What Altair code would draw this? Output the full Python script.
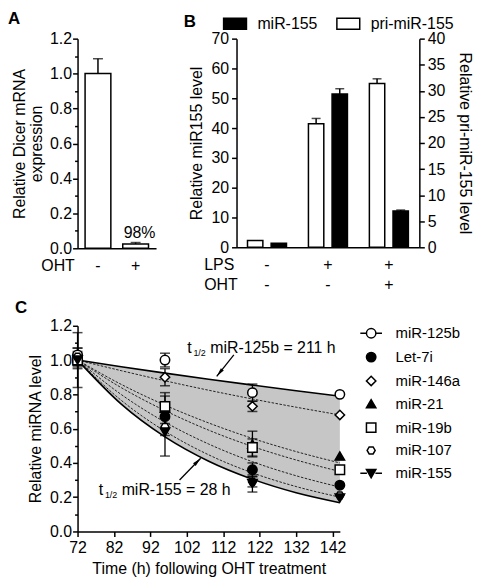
import altair as alt
import pandas as pd

FONT = "Liberation Sans"

# ---------------- Panel A data ----------------
a_oht = ["-", "+"]
a_value = [1.0, 0.025]
a_err = [0.085, 0.008]
a_note = ["", "98%"]
a_ticks = [0.0, 0.2, 0.4, 0.6, 0.8, 1.0, 1.2]
a_minor = [0.1, 0.3, 0.5, 0.7, 0.9, 1.1]

# ---------------- Panel B data ----------------
b_groups = ["-|-", "+|-", "+|+"]          # LPS | OHT
b_series = ["miR-155", "pri-miR-155"]
b_mir155 = [1.4, 51.4, 12.2]
b_mir155_err = [0.0, 1.8, 0.3]
b_pri = [1.3, 23.7, 31.4]
b_pri_err = [0.0, 1.0, 0.9]
b_left_ticks = [0, 10, 20, 30, 40, 50, 60, 70]
b_right_ticks = [0, 5, 10, 15, 20, 25, 30, 35, 40]

# ---------------- Panel C data ----------------
c_names = ["miR-125b", "Let-7i", "miR-146a", "miR-21", "miR-19b", "miR-107", "miR-155"]
c_hours = [72, 96, 120, 144]
c_125b = [1.03, 1.00, 0.81, 0.80]
c_let7i = [1.00, 0.67, 0.36, 0.27]
c_146a = [1.00, 0.90, 0.73, 0.68]
c_21 = [1.01, 0.72, 0.51, 0.44]
c_19b = [1.00, 0.73, 0.49, 0.36]
c_107 = [1.02, 0.61, 0.29, 0.21]
c_155 = [1.00, 0.58, 0.28, 0.195]
c_125b_err = [0.04, 0.04, 0.05, 0.0]
c_let7i_err = [0.03, 0.07, 0.04, 0.0]
c_146a_err = [0.03, 0.05, 0.03, 0.0]
c_21_err = [0.06, 0.09, 0.075, 0.0]
c_19b_err = [0.04, 0.06, 0.05, 0.0]
c_107_err = [0.03, 0.05, 0.03, 0.0]
c_155_err = [0.16, 0.14, 0.05, 0.0]

fit_hours = [72, 84, 96, 108, 120, 132, 144]
fit_125b = [1.0, 0.961, 0.924, 0.888, 0.854, 0.821, 0.789]
fit_146a = [1.0, 0.938, 0.879, 0.824, 0.773, 0.725, 0.680]
fit_21 = [1.0, 0.858, 0.737, 0.633, 0.543, 0.466, 0.400]
fit_19b = [1.0, 0.839, 0.705, 0.591, 0.496, 0.417, 0.350]
fit_let7i = [1.0, 0.799, 0.638, 0.510, 0.407, 0.325, 0.259]
fit_107 = [1.0, 0.765, 0.585, 0.447, 0.342, 0.262, 0.200]
fit_155 = [1.0, 0.743, 0.552, 0.410, 0.305, 0.226, 0.168]

c_xticks = [72, 82, 92, 102, 112, 122, 132, 142]
c_yticks = [0.0, 0.2, 0.4, 0.6, 0.8, 1.0, 1.2]
c_yminor = [0.1, 0.3, 0.5, 0.7, 0.9, 1.1]

ann_t_x = [102.1, 77.8]
ann_y = [1.072, 0.243]
ann_sub_x = [103.8, 79.5]
ann_main_x = [108.4, 84.1]
ann_main = ["miR-125b = 211 h", "miR-155 = 28 h"]
arr_tail_x = [114.9, 100.0]
arr_tail_y = [1.03, 0.30]
arr_tip_x = [110.2, 105.8]
arr_tip_y = [0.905, 0.427]
arr_angle = [219, 45]

HEX = "M-0.85,0L-0.42,-0.74L0.42,-0.74L0.85,0L0.42,0.74L-0.42,0.74Z"
c_shapes = ["circle", "circle", "diamond", "triangle-up", "square", HEX, "triangle-down"]
c_legend_shapes = [
    "M-2.3,0H-1M1,0H2.3M-1,0A1,1 0 1,1 1,0A1,1 0 1,1 -1,0Z",
    "circle", "diamond", "triangle-up", "square", HEX,
    "M-2.3,0H-0.9M0.9,0H2.3M-1,-0.8L1,-0.8L0,0.95Z",
]
c_fills = ["white", "black", "white", "black", "white", "white", "black"]

# =============== Panel A =================
dfA = pd.DataFrame({
    "oht": a_oht,
    "value": a_value,
    "top": [v + e for v, e in zip(a_value, a_err)],
    "note": a_note,
})
yscaleA = alt.Scale(domain=[0, 1.2], nice=False, zero=True)
xA = alt.X("oht:N", sort=a_oht,
           scale=alt.Scale(paddingInner=0.316, paddingOuter=0.2),
           axis=alt.Axis(title="OHT", titleX=-37, titleY=9, titleAlign="left",
                         titleBaseline="top", titleAngle=0, ticks=False,
                         labelAngle=0, labelPadding=9, labelBaseline="top"))
yaxA = alt.Axis(values=a_ticks, format=".1f", title=["Relative Dicer mRNA", "expression"],
                titlePadding=5, titleLineHeight=17, labelPadding=1)


def yA(field):
    return alt.Y(field, type="quantitative", scale=yscaleA, axis=yaxA)


baseA = alt.Chart(dfA)
barsA = baseA.mark_bar(fill="white", stroke="black", strokeWidth=1.5).encode(x=xA, y=yA("value"))
ruleA = baseA.mark_rule(strokeWidth=1.5, color="black").encode(x=xA, y=yA("value"), y2="top")
capA = baseA.mark_tick(size=10, thickness=1.5, color="black").encode(x=xA, y=yA("top"))
noteA = baseA.mark_text(baseline="bottom", dy=-2, dx=4, fontSize=16, font=FONT, color="black").encode(
    x=xA, y=yA("top"), text="note:N")
mainA = alt.layer(barsA, ruleA, capA, noteA)
minorA = alt.Chart(pd.DataFrame({"v": a_minor})).mark_point(opacity=0).encode(
    y=alt.Y("v:Q", scale=yscaleA,
            axis=alt.Axis(values=a_minor, labels=False, tickSize=3, domain=False,
                          title=None, orient="left")))
panelA = alt.layer(mainA, minorA).resolve_axis(y="independent").properties(
    width=79, height=211,
    title=alt.TitleParams("A", anchor="start", frame="group", dx=-70, fontSize=17,
                          fontWeight="bold", font=FONT, offset=3, color="black"))

# =============== Panel B =================
dfBk = pd.DataFrame({"group": b_groups, "series": "miR-155", "value": b_mir155,
                     "top": [v + e for v, e in zip(b_mir155, b_mir155_err)]})
dfBw = pd.DataFrame({"group": b_groups, "series": "pri-miR-155", "value": b_pri,
                     "top": [v + e for v, e in zip(b_pri, b_pri_err)]})
xB = alt.X("group:N", sort=b_groups,
           scale=alt.Scale(paddingInner=0.36, paddingOuter=0.18),
           axis=alt.Axis(title=["LPS", "OHT"], titleX=-33, titleY=9, titleAlign="left",
                         titleBaseline="top", titleAngle=0, titleLineHeight=20,
                         ticks=False, labelAngle=0, labelPadding=9, labelBaseline="top",
                         labelLineHeight=20, labelExpr="split(datum.label, '|')"))
xoB = alt.XOffset("series:N", scale=alt.Scale(domain=["pri-miR-155", "miR-155"], paddingInner=0.35))
legB = alt.Legend(title="B", titleOrient="left", titleFontSize=17, titleFontWeight="bold",
                  titleFont=FONT, titlePadding=26, orient="none", legendX=-53, legendY=-28,
                  direction="horizontal", symbolType="M-1,-0.48H1V0.48H-1Z", symbolSize=529,
                  symbolStrokeColor="black", symbolStrokeWidth=1.5, labelFontSize=16,
                  labelFont=FONT, labelOffset=10, columnPadding=16, labelColor="black",
                  titleColor="black")
fillB = alt.Fill("series:N", scale=alt.Scale(domain=b_series, range=["black", "white"]), legend=legB)


def b_layer(df, yscale, yaxis):
    base = alt.Chart(df)

    def yy(field):
        return alt.Y(field, type="quantitative", scale=yscale, axis=yaxis)

    bars = base.mark_bar(stroke="black", strokeWidth=1.5).encode(
        x=xB, xOffset=xoB, y=yy("value"), fill=fillB)
    errd = base.transform_filter("datum.top > datum.value")
    rule = errd.mark_rule(strokeWidth=1.5, color="black").encode(
        x=xB, xOffset=xoB, y=yy("value"), y2="top")
    cap = errd.mark_tick(size=9, thickness=1.5, color="black").encode(
        x=xB, xOffset=xoB, y=yy("top"))
    return alt.layer(bars, rule, cap)


layBk = b_layer(dfBk, alt.Scale(domain=[0, 70], nice=False),
                alt.Axis(values=b_left_ticks, title="Relative miR155 level", orient="left",
                         titlePadding=6, labelPadding=3))
layBw = b_layer(dfBw, alt.Scale(domain=[0, 40], nice=False),
                alt.Axis(values=b_right_ticks, title="Relative pri-miR-155 level", orient="right",
                         titleAngle=90, titlePadding=12, labelPadding=3))
panelB = alt.layer(layBk, layBw).resolve_scale(y="independent").properties(width=184, height=210)

# =============== Panel C =================
c_vals = [c_125b, c_let7i, c_146a, c_21, c_19b, c_107, c_155]
c_errs = [c_125b_err, c_let7i_err, c_146a_err, c_21_err, c_19b_err, c_107_err, c_155_err]
rows = []
for name, vals, errs in zip(c_names, c_vals, c_errs):
    for h, v, e in zip(c_hours, vals, errs):
        rows.append({"name": name, "hours": h, "value": v, "lo": v - e, "hi": v + e, "err": e})
dfP = pd.DataFrame(rows)
dfErr = dfP[dfP["err"] > 0]
dfCaps = pd.concat([
    dfErr[["name", "hours"]].assign(cap=dfErr["lo"]),
    dfErr[["name", "hours"]].assign(cap=dfErr["hi"]),
])

fit_map = {"miR-125b": fit_125b, "Let-7i": fit_let7i, "miR-146a": fit_146a, "miR-21": fit_21,
           "miR-19b": fit_19b, "miR-107": fit_107, "miR-155": fit_155}
frows = []
for name in c_names:
    for h, v in zip(fit_hours, fit_map[name]):
        frows.append({"name": name, "hours": h, "fit": v,
                      "style": "solid" if name in ("miR-125b", "miR-155") else "dash"})
dfF = pd.DataFrame(frows)
dfArea = pd.DataFrame({"hours": fit_hours, "top": fit_125b, "bottom": fit_155})

xscaleC = alt.Scale(domain=[72, 144], nice=False, zero=False)
yscaleC = alt.Scale(domain=[0, 1.2], nice=False)
xaxC = alt.Axis(values=c_xticks, title="Time (h) following OHT treatment", labelFlush=False,
                labelPadding=3, titlePadding=5, grid=False)
yaxC = alt.Axis(values=c_yticks, format=".1f", title="Relative miRNA level", titlePadding=6,
                labelPadding=1)


def xC(field="hours"):
    return alt.X(field, type="quantitative", scale=xscaleC, axis=xaxC)


def yC(field):
    return alt.Y(field, type="quantitative", scale=yscaleC, axis=yaxC)


area = alt.Chart(dfArea).mark_area(color="#c6c6c6", interpolate="monotone").encode(
    x=xC(), y=yC("top"), y2="bottom")
dashed = alt.Chart(dfF).transform_filter("datum.style == 'dash'").mark_line(
    color="#222222", strokeWidth=1, strokeDash=[2.5, 1.5], interpolate="monotone").encode(
    x=xC(), y=yC("fit"), detail="name:N")
solid = alt.Chart(dfF).transform_filter("datum.style == 'solid'").mark_line(
    color="black", strokeWidth=1.6, interpolate="monotone").encode(
    x=xC(), y=yC("fit"), detail="name:N")
errC = alt.Chart(dfErr).mark_rule(color="black", strokeWidth=1.3).encode(
    x=xC(), y=yC("lo"), y2="hi")
capC = alt.Chart(dfCaps).mark_tick(color="black", size=10, thickness=1.5, orient="horizontal").encode(
    x=xC(), y=yC("cap"))
pts = alt.Chart(dfP).mark_point(filled=False, size=90, color="black", strokeWidth=1.5, opacity=1).encode(
    x=xC(), y=yC("value"),
    shape=alt.Shape("name:N", scale=alt.Scale(domain=c_names, range=c_shapes), legend=None),
    fill=alt.Fill("name:N", scale=alt.Scale(domain=c_names, range=c_fills), legend=None))
legC = alt.Legend(title=None, orient="none", legendX=288, legendY=0, labelFontSize=15,
                  labelFont=FONT, labelColor="black", symbolSize=90, symbolStrokeColor="black",
                  symbolStrokeWidth=1.5, rowPadding=7, labelOffset=17)
legLayer = alt.Chart(dfP).transform_filter("datum.hours < 0").mark_point(
    filled=False, size=90, strokeWidth=1.5, opacity=1).encode(
    x=xC(), y=yC("value"),
    shape=alt.Shape("name:N", scale=alt.Scale(domain=c_names, range=c_legend_shapes), legend=legC),
    fill=alt.Fill("name:N", scale=alt.Scale(domain=c_names, range=c_fills), legend=legC),
    stroke=alt.Stroke("name:N", scale=alt.Scale(domain=c_names, range=["black"] * 7), legend=legC))

dfAnn = pd.DataFrame({"tx": ann_t_x, "sx": ann_sub_x, "mx": ann_main_x, "y": ann_y, "main": ann_main,
                      "t": ["t", "t"], "sub": ["1/2", "1/2"]})
annT = alt.Chart(dfAnn).mark_text(align="left", baseline="middle", fontSize=16, font=FONT, color="black").encode(
    x=xC("tx"), y=yC("y"), text="t:N")
annS = alt.Chart(dfAnn).mark_text(align="left", baseline="middle", fontSize=9, dy=5, font=FONT, color="black").encode(
    x=xC("sx"), y=yC("y"), text="sub:N")
annM = alt.Chart(dfAnn).mark_text(align="left", baseline="middle", fontSize=16, font=FONT, color="black").encode(
    x=xC("mx"), y=yC("y"), text="main:N")
dfArr = pd.DataFrame({"x1": arr_tail_x, "y1": arr_tail_y, "x2": arr_tip_x, "y2": arr_tip_y, "ang": arr_angle})
arrLine = alt.Chart(dfArr).mark_rule(color="black", strokeWidth=1.3).encode(
    x=xC("x1"), y=yC("y1"), x2="x2", y2="y2")
arrHead = alt.Chart(dfArr).mark_point(shape="M0,0L0.42,2L-0.42,2Z", filled=True, color="black",
                                      size=81, opacity=1).encode(
    x=xC("x2"), y=yC("y2"), angle=alt.Angle("ang:Q", scale=None))

mainC = alt.layer(area, dashed, solid, errC, capC, pts, legLayer, annT, annS, annM, arrLine, arrHead
                  ).resolve_scale(shape="independent", fill="independent", stroke="independent")
minorC = alt.Chart(pd.DataFrame({"v": c_yminor})).mark_point(opacity=0).encode(
    y=alt.Y("v:Q", scale=yscaleC,
            axis=alt.Axis(values=c_yminor, labels=False, tickSize=3, domain=False,
                          title=None, orient="left")))
panelC = alt.layer(mainC, minorC).resolve_axis(y="independent").properties(
    width=264, height=207,
    title=alt.TitleParams("C", anchor="start", frame="group", dx=-63, fontSize=17,
                          fontWeight="bold", font=FONT, offset=1, color="black"))

row1 = alt.hconcat(panelA, panelB, spacing=28).resolve_scale(fill="independent").resolve_legend(
    fill="independent")
chart = alt.vconcat(row1, panelC, spacing=7).resolve_scale(
    fill="independent", shape="independent", stroke="independent").resolve_legend(
    fill="independent", shape="independent", stroke="independent").properties(padding=0).configure(
    font=FONT).configure_view(stroke=None).configure_axis(
    domainColor="black", domainWidth=1.5, tickColor="black", tickWidth=1.5, tickSize=5,
    labelColor="black", labelFontSize=16, labelFont=FONT, titleFont=FONT, titleFontSize=16,
    titleFontWeight="normal", titleColor="black", grid=False)

chart.save("out.html", embed_options={"renderer": "svg", "actions": False})
